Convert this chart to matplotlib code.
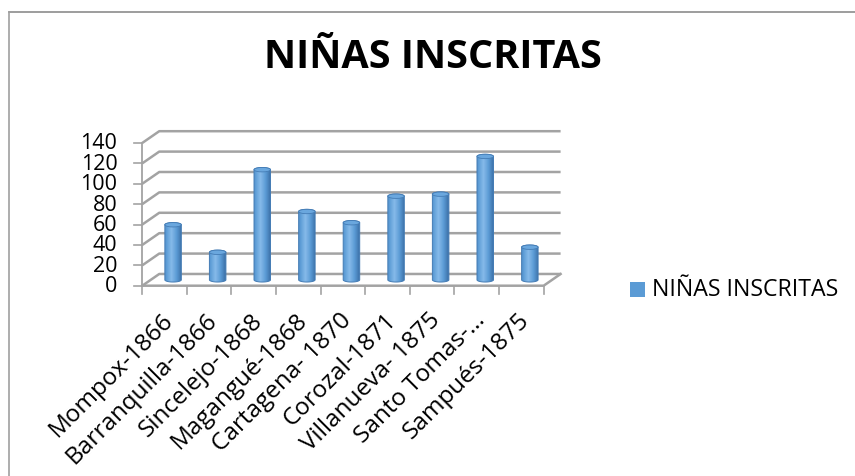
import numpy as np
import matplotlib
matplotlib.use("Agg")
import matplotlib.pyplot as plt
from matplotlib.patches import Ellipse, Rectangle, Polygon
from matplotlib.lines import Line2D

categories = ["Mompox-1866", "Barranquilla-1866", "Sincelejo-1868", "Magangué-1868",
              "Cartagena- 1870", "Corozal-1871", "Villanueva- 1875", "Santo Tomas-…",
              "Sampués-1875"]
values = [54, 27, 108, 67, 56, 82, 84, 121, 32]
yticks = [0, 20, 40, 60, 80, 100, 120, 140]
title = "NIÑAS INSCRITAS"
series_name = "NIÑAS INSCRITAS"

plt.rcParams['font.family'] = ['Open Sans', 'DejaVu Sans']

W, H = 855, 477
fig = plt.figure(figsize=(W / 100, H / 100), dpi=100)

DX, DY = 0.38, 11.5
ymax = 140
x0, x1 = -0.5, len(categories) - 0.5
left_px, bottom_px, right_px, top_px = 142.3, 286.7, 560.6, 132.2
ax = fig.add_axes([left_px / W, 1 - bottom_px / H, (right_px - left_px) / W, (bottom_px - top_px) / H])
ax.set_xlim(x0, x1 + DX)
ax.set_ylim(0, ymax + DY)
ax.axis('off')

px_per_unit_x = (right_px - left_px) / (x1 + DX - x0)
px_per_unit_y = (bottom_px - top_px) / (ymax + DY)

grid_c = '#a3a3a3'
for v in yticks:
    ax.plot([x0, x0 + DX, x1 + DX], [v, v + DY, v + DY], color=grid_c, lw=1.8,
            solid_capstyle='butt', clip_on=False, zorder=1)
ax.plot([x0, x1, x1 + DX], [0, 0, DY], color=grid_c, lw=1.8, clip_on=False, zorder=1)
ax.plot([x0, x0], [0, ymax], color=grid_c, lw=1.3, clip_on=False, zorder=1)

for v in yticks:
    ax.plot([x0 - 8 / px_per_unit_x, x0], [v, v], color=grid_c, lw=1.2, clip_on=False)
    ax.text(x0 - 25 / px_per_unit_x, v, str(v), ha='right', va='center', fontsize=15.5,
            color='black')
for i in range(len(categories) + 1):
    xb = x0 + i
    ax.plot([xb, xb], [0, -8 / px_per_unit_y], color=grid_c, lw=1.2, clip_on=False)

for i, lab in enumerate(categories):
    ax.text(i - 0.08, -22 / px_per_unit_y, lab, rotation=45, ha='right', va='top',
            rotation_mode='anchor', fontsize=17.5, color='black')

bar_w = 0.37
ry = 2.2 / px_per_unit_y
grad = np.linspace(0, 1, 64)
base = np.array([0x5B, 0x9B, 0xD5]) / 255
dark = np.array([0x3A, 0x6E, 0xA5]) / 255
light = np.array([0x86, 0xBA, 0xEA]) / 255
prof = np.abs(grad - 0.38) / 0.62
cols = np.empty((1, 64, 3))
for k, p in enumerate(prof):
    if p < 0.5:
        c = light + (base - light) * (p / 0.5)
    else:
        c = base + (dark - base) * ((p - 0.5) / 0.5)
    cols[0, k] = c
for i, v in enumerate(values):
    cx = i + DX / 2
    yb = DY / 2
    yt = v + DY / 2
    l, r = cx - bar_w / 2, cx + bar_w / 2
    th_b = np.linspace(np.pi, 2 * np.pi, 40)
    bottom_pts = np.column_stack([cx + bar_w / 2 * np.cos(th_b), yb + ry * np.sin(th_b)])
    th_t = np.linspace(0, np.pi, 40)
    top_pts = np.column_stack([cx + bar_w / 2 * np.cos(th_t), yt + ry * np.sin(th_t)])
    pts = np.vstack([bottom_pts, top_pts])
    poly = Polygon(pts, closed=True, facecolor='none', edgecolor='none')
    ax.add_patch(poly)
    im = ax.imshow(cols, extent=[l, r, yb - ry, yt + ry], aspect='auto', zorder=3,
                   interpolation='bilinear')
    im.set_clip_path(poly)
    ax.add_patch(Polygon(pts, closed=True, facecolor='none', edgecolor='#447cb5',
                         lw=0.7, zorder=4))
    ax.add_patch(Ellipse((cx, yt), bar_w, 2 * ry, facecolor='#6aa7de', edgecolor='#447cb5',
                         lw=0.6, zorder=5))
ax.set_xlim(x0, x1 + DX)
ax.set_ylim(0, ymax + DY)

fig.text(432.5 / W, 1 - 58 / H, title, ha='center', va='center', fontsize=28.5,
         fontweight='bold', color='black')

fig.patches.append(Rectangle((630 / W, 1 - 298 / H), 15 / W, 15 / H, transform=fig.transFigure,
                             facecolor='#5B9BD5', edgecolor='none'))
fig.text(652 / W, 1 - 290 / H, series_name, ha='left', va='center', fontsize=16.7, color='black')

fig.add_artist(Line2D([8.5 / W, 1], [1 - 13 / H, 1 - 13 / H], color='#8c8c8c', lw=1.2,
                      transform=fig.transFigure))
fig.add_artist(Line2D([8.5 / W, 8.5 / W], [1 - 13 / H, 0], color='#a0a0a0', lw=1.2,
                      transform=fig.transFigure))

fig.savefig('out.png', dpi=100, facecolor='white')
